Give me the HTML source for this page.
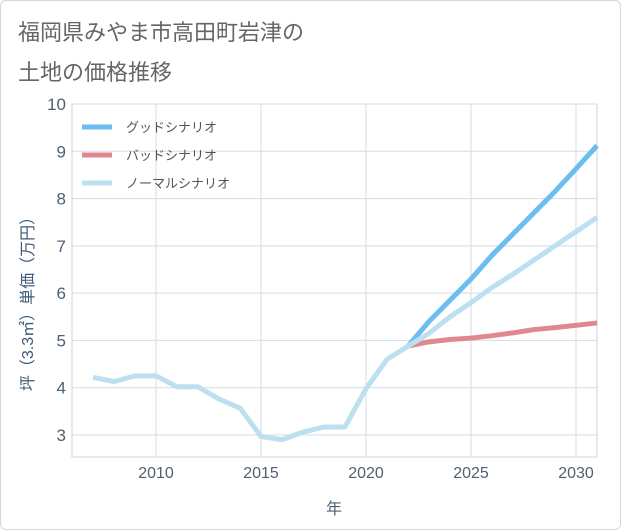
<!DOCTYPE html>
<html><head><meta charset="utf-8"><style>
body{margin:0;background:#fff;}
#wrap{position:relative;width:619px;height:528px;border:1px solid #cfd8e0;border-radius:6px;background:#fff;overflow:hidden}
.t{position:absolute;left:17px;font-family:"Liberation Sans","Noto Sans CJK JP",sans-serif;font-size:22px;color:#666;}
svg text{font-family:"Liberation Sans","Noto Sans CJK JP",sans-serif;}
</style></head><body>
<div id="wrap">
<div class="t" style="top:14px">福岡県みやま市高田町岩津の</div>
<div class="t" style="top:54px">土地の価格推移</div>
<svg id="chart" width="621" height="530" style="position:absolute;left:-1px;top:-1px"></svg>
</div>
<script>
const years=[2007,2008,2009,2010,2011,2012,2013,2014,2015,2016,2017,2018,2019,2020,2021,2022,2023,2024,2025,2026,2027,2028,2029,2030,2031];
const normalVals=[4.22,4.13,4.25,4.25,4.02,4.02,3.76,3.57,2.97,2.9,3.06,3.17,3.17,3.98,4.6,4.88,5.15,5.5,5.8,6.12,6.4,6.7,7.0,7.3,7.6];
const goodYears=[2022,2023,2024,2025,2026,2027,2028,2029,2030,2031];
const goodVals=[4.88,5.4,5.85,6.3,6.8,7.25,7.7,8.15,8.63,9.12];
const badVals=[4.88,4.97,5.02,5.05,5.1,5.16,5.23,5.27,5.32,5.37];
const yTicks=[3,4,5,6,7,8,9,10];
const xTicks=[2010,2015,2020,2025,2030];
const legendLabels=["グッドシナリオ","バッドシナリオ","ノーマルシナリオ"];
const legendColors=["#6cbdf0","#e08890","#bde0f0"];

const svg=document.getElementById('chart');
const NS='http://www.w3.org/2000/svg';
const L=72,R=597,T=104,B=457;
const X=v=>L+(v-2006)*(R-L)/25;
const Y=v=>435-(v-3)*(435-104)/7;
function mk(tag,attrs){const e=document.createElementNS(NS,tag);for(const k in attrs)e.setAttribute(k,attrs[k]);svg.appendChild(e);return e;}
const bg=mk('rect',{x:L,y:T,width:R-L,height:B-T,fill:'#fff',stroke:'#c8d4e0'});


yTicks.forEach(v=>{
  const g=mk('line',{x1:L,x2:R,y1:Y(v),y2:Y(v),stroke:'#d3dde6','stroke-width':1});
  
  
  const t=mk('text',{x:L-6,y:Y(v)+6,'text-anchor':'end','font-size':17,fill:'#506070'});
  t.textContent=v;
  
  
});
xTicks.forEach(v=>{
  const g=mk('line',{x1:X(v),x2:X(v),y1:T,y2:B,stroke:'#d3dde6','stroke-width':1});
  
  
  const t=mk('text',{x:X(v),y:478,'text-anchor':'middle','font-size':16,fill:'#506070'});
  t.textContent=v;
  
  
});
function line(xs,vs,color,name){
  const p=mk('polyline',{points:xs.map((x,i)=>X(x)+','+Y(vs[i])).join(' '),fill:'none',stroke:color,'stroke-width':5,'stroke-linejoin':'round','stroke-linecap':'butt'});
  
  
}
line(goodYears,badVals,legendColors[1],'bad-scenario-line');
line(goodYears,goodVals,legendColors[0],'good-scenario-line');
line(years,normalVals,legendColors[2],'normal-scenario-line');
legendLabels.forEach((s,i)=>{
  const y=127+i*28;
  const sw=mk('line',{x1:82,x2:112,y1:y,y2:y,stroke:legendColors[i],'stroke-width':5});
  
  
  const t=mk('text',{x:126,y:y+5,'font-size':13,fill:'#555'});
  t.textContent=s;
  
  
});
const xt=mk('text',{x:334,y:514,'text-anchor':'middle','font-size':16,fill:'#506070'});
xt.textContent='年';


const yt=mk('text',{x:0,y:0,'text-anchor':'middle','font-size':16,fill:'#3d5a78',transform:'translate(33,300) rotate(-90)'});
yt.textContent='坪（3.3㎡）単価（万円）';


</script>
</body></html>
